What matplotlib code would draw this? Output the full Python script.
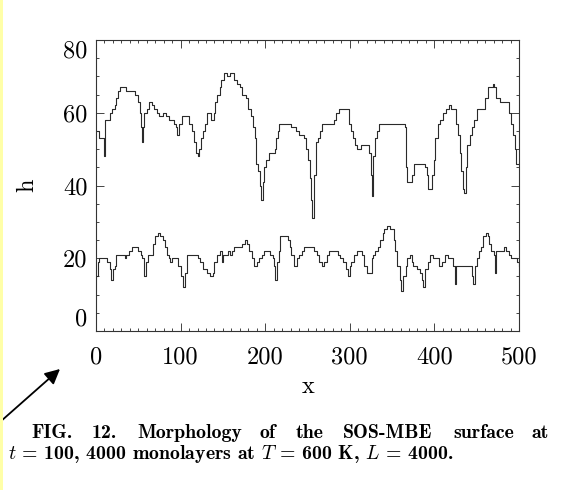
import matplotlib
matplotlib.use("Agg")
import matplotlib.pyplot as plt
from matplotlib.patches import Rectangle
from matplotlib.ticker import MultipleLocator

plt.rcParams["mathtext.fontset"] = "cm"

# %% Data: (x, h) where each step starts

upper_profile = [
    (0, 55), (4, 53), (9, 51), (10, 48), (11, 58), (17, 60), (19, 61),
    (23, 62), (24, 64), (26, 66), (28, 67), (36, 66), (46, 65), (50, 63),
    (52, 60), (53, 56), (54, 52), (55, 56), (57, 60), (60, 61), (63, 63),
    (66, 62), (69, 61), (72, 60), (75, 59), (79, 60), (83, 59), (86, 58),
    (92, 57), (95, 56), (96, 54), (98, 57), (102, 59), (110, 57), (113, 55),
    (116, 52), (118, 49), (120, 48), (122, 50), (124, 53), (126, 55),
    (129, 57), (131, 60), (136, 58), (139, 60), (141, 63), (143, 65),
    (146, 67), (148, 69), (151, 71), (155, 70), (158, 71), (163, 69),
    (167, 68), (170, 67), (173, 65), (177, 64), (180, 61), (183, 59),
    (185, 56), (188, 53), (189, 46), (191, 44), (194, 40), (195, 36),
    (197, 41), (199, 45), (201, 47), (204, 49), (211, 50), (213, 53),
    (215, 55), (216, 57), (231, 56), (236, 55), (240, 54), (246, 53),
    (248, 50), (251, 47), (253, 42), (254, 36), (255, 31), (258, 43),
    (260, 52), (263, 53), (265, 55), (267, 57), (281, 58), (284, 60),
    (287, 61), (299, 57), (301, 55), (304, 53), (306, 51), (308, 50),
    (313, 51), (323, 49), (325, 43), (326, 37), (328, 48), (330, 53),
    (332, 55), (334, 57), (365, 56), (366, 52), (367, 45), (368, 41),
    (373, 43), (376, 46), (389, 45), (391, 43), (393, 39), (397, 43),
    (399, 47), (401, 53), (404, 57), (407, 58), (410, 60), (414, 61),
    (417, 62), (420, 61), (425, 57), (428, 54), (430, 49), (431, 44),
    (434, 39), (435, 38), (437, 45), (439, 51), (442, 54), (444, 56),
    (447, 58), (450, 61), (460, 64), (463, 67), (469, 68), (471, 67),
    (473, 64), (477, 63), (488, 60), (491, 57), (493, 54), (495, 50),
    (496, 46), (500, 46),
]

lower_profile = [
    (0, 15), (2, 19), (4, 20), (13, 19), (17, 17), (18, 14), (20, 17),
    (23, 18), (24, 21), (34, 20), (36, 21), (39, 22), (43, 23), (50, 22),
    (53, 21), (54, 20), (57, 15), (59, 19), (61, 21), (67, 24), (70, 26),
    (73, 27), (76, 26), (79, 25), (81, 23), (84, 21), (86, 20), (88, 19),
    (90, 20), (97, 18), (101, 15), (103, 12), (105, 16), (107, 21),
    (120, 20), (123, 19), (126, 17), (131, 16), (135, 15), (138, 16),
    (140, 19), (143, 21), (146, 22), (149, 19), (150, 21), (156, 22),
    (158, 21), (161, 22), (163, 23), (173, 24), (176, 25), (179, 24),
    (181, 22), (184, 20), (187, 18), (190, 19), (193, 20), (196, 21),
    (199, 22), (206, 21), (209, 20), (210, 18), (212, 14), (214, 19),
    (216, 22), (218, 26), (227, 25), (229, 23), (231, 21), (234, 18),
    (237, 20), (240, 21), (243, 22), (246, 23), (258, 22), (261, 21),
    (264, 19), (267, 18), (270, 19), (273, 21), (276, 22), (286, 21),
    (289, 20), (292, 19), (296, 17), (298, 15), (300, 18), (302, 19),
    (305, 21), (308, 22), (314, 21), (317, 18), (320, 16), (326, 20),
    (328, 21), (330, 22), (333, 23), (336, 25), (339, 27), (341, 28),
    (344, 29), (347, 28), (352, 25), (354, 22), (356, 18), (359, 14),
    (361, 11), (363, 15), (366, 18), (368, 20), (371, 21), (373, 19),
    (375, 18), (379, 17), (383, 16), (385, 14), (386, 12), (389, 17),
    (392, 19), (395, 21), (398, 20), (405, 18), (409, 19), (413, 21),
    (416, 20), (422, 18), (424, 13), (426, 18), (444, 15), (446, 13),
    (448, 18), (450, 20), (453, 22), (455, 23), (458, 26), (461, 27),
    (463, 26), (465, 24), (467, 22), (470, 21), (472, 16), (473, 22),
    (482, 23), (485, 22), (488, 21), (491, 20), (498, 19), (500, 18),
]

x_ticks = [0, 100, 200, 300, 400, 500]
y_ticks = [0, 20, 40, 60, 80]

# %% Figure

fig = plt.figure(figsize=(5.69, 4.90), dpi=100)
W, H = 569, 490
ax = fig.add_axes([96 / W, 1 - 331 / H, (519 - 96) / W, (331 - 40) / H])

for profile in (upper_profile, lower_profile):
    xs, hs = zip(*profile)
    ax.plot(xs, hs, drawstyle="steps-post", color="#2a2a2a", linewidth=0.8)

ax.set_xlim(0, 500)
ax.set_ylim(0, 80)
ax.set_xticks(x_ticks)
ax.set_yticks(y_ticks)
ax.xaxis.set_minor_locator(MultipleLocator(10))
ax.yaxis.set_minor_locator(MultipleLocator(5))
ax.tick_params(which="both", direction="in", top=True, right=True,
               color="#444444", width=0.7)
ax.tick_params(which="major", length=6)
ax.tick_params(which="minor", length=2.5)
ax.tick_params(axis="x", pad=11)
ax.tick_params(axis="y", pad=6)
for sp in ax.spines.values():
    sp.set_linewidth(0.8)
    sp.set_color("#333333")

ax.set_xticklabels([str(v) for v in x_ticks], fontfamily="cmr10", fontsize=17.5)
ax.set_yticklabels([str(v) for v in y_ticks], fontfamily="cmr10", fontsize=17.5)
ylabs = ax.get_yticklabels()
ylabs[0].set_verticalalignment("bottom")
ylabs[-1].set_verticalalignment("top")

fig.text(308 / W, 1 - 387 / H, "x", fontfamily="cmr10", fontsize=17.5,
         ha="center", va="center")
fig.text(27 / W, 1 - 185 / H, "h", fontfamily="cmr10", fontsize=17.5,
         ha="center", va="center", rotation=90)

# caption, line 1 is justified in the original so words are placed one by one
words = [("FIG.", 31), ("12.", 92), ("Morphology", 137), ("of", 260),
         ("the", 296), ("SOS-MBE", 343), ("surface", 453), ("at", 531)]
for w, px in words:
    fig.text(px / W, 1 - 438 / H, w, fontfamily="cmb10", fontsize=14.3,
             ha="left", va="baseline")
fig.text(8 / W, 1 - 459 / H,
         "$t$ = 100, 4000 monolayers at $T$ = 600 K, $L$ = 4000.",
         fontfamily="cmb10", fontsize=14.3, ha="left", va="baseline")

# yellow margin and the arrow pasted onto the scan
fig.patches.append(Rectangle((0, 0), 3 / W, 1, transform=fig.transFigure,
                             facecolor="#ffffa8", edgecolor="none"))
ax.annotate("", xy=(60 / W, 1 - 369 / H), xytext=(0, 1 - 422 / H),
            xycoords="figure fraction", textcoords="figure fraction",
            arrowprops=dict(arrowstyle="-|>,head_length=0.9,head_width=0.45",
                            color="black", linewidth=1.3, shrinkA=0, shrinkB=0))

fig.savefig("out.png", dpi=100)
